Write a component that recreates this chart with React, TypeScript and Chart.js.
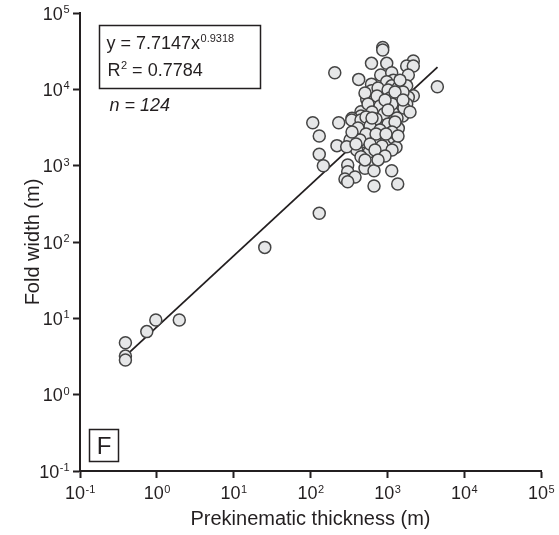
import { useEffect, useRef } from "react";
import { Chart, registerables } from "chart.js";

Chart.register(...registerables);

// Prekinematic thickness (m) of each measured fold
const thickness = [
  0.39, 0.39, 0.39, 0.74, 0.97, 1.96, 25.4, 130,
  871, 871, 622, 982, 2178, 1786, 2178, 207, 424, 820,
  1140, 1875, 1197, 982, 622, 1786, 1140, 4477, 622, 871,
  1297, 2178, 1875, 539, 671, 871, 1786, 1321, 582, 961,
  454, 764, 1197, 1585, 454, 107, 233, 347, 454, 560,
  982, 728, 1084, 1390, 487, 622, 130, 327, 221, 512,
  713, 982, 1220, 399, 1297, 582, 454, 130, 147, 305,
  512, 671, 1140, 305, 281, 380, 305, 671, 1365, 296,
  344, 454,
  757, 1021, 1377, 1600, 512, 734, 1084, 1462, 561, 803,
  1151, 1648, 632, 905, 1337, 528, 713, 1021, 1259, 595,
  803, 1151, 415, 528, 713, 961, 1377, 441, 595, 853,
  1151, 391, 691, 933, 512, 757, 347, 1973, 1462, 1259,
  933, 632, 1021, 1600,
];

// Fold width (m), same order as thickness
const foldWidth = [
  4.8, 3.2, 2.85, 6.7, 9.5, 9.5, 85, 238,
  35300, 32700, 21900, 21900, 23500, 20200, 20200, 16500, 13500, 15400,
  16500, 15400, 13200, 12600, 11700, 11100, 11100, 10800, 9600, 9040,
  8260, 8260, 7870, 7400, 7030, 6890, 6420, 5920, 5640, 5640,
  5090, 4750, 4850, 4470, 4470, 3650, 3650, 4170, 3650, 3650,
  3960, 3410, 3310, 3080, 2790, 2990, 2450, 2170, 1830, 2060,
  2120, 2170, 2280, 1600, 1740, 1520, 1310, 1410, 1000, 1020,
  923, 859, 859, 834, 668, 710, 617, 542, 575, 1770,
  3960, 3960,
  10400, 9800, 10400, 9230, 8950, 8180, 7700, 7030, 6420, 6050,
  6420, 5700, 5050, 4750, 4210, 4340, 4080, 3510, 3730, 3310,
  2930, 2760, 3110, 2600, 2600, 2600, 2450, 2170, 1920, 1810,
  1600, 1920, 1600, 1340, 1190, 1190, 2760, 5050, 13200, 9230,
  7250, 4210, 5360, 7250,
];

// Power-law fit y = a x^b shown on the chart
const fitCoef = 7.7147;
const fitExponent = 0.9318;
const fitXRange = [0.38, 4500];

const tickExponents = [-1, 0, 1, 2, 3, 4, 5];
const xTitle = "Prekinematic thickness (m)";
const yTitle = "Fold width (m)";
const eqBase = "y = 7.7147x";
const eqSup = "0.9318";
const r2Base = "R";
const r2Sup = "2";
const r2Rest = " = 0.7784";
const nLabel = "n = 124";
const panelLabel = "F";

const FONT = '"Liberation Sans", Arial, Helvetica, sans-serif';
const INK = "#231f20";

const labelsPlugin = {
  id: "customLabels",
  afterDraw(chart: any) {
    const { ctx, chartArea, scales } = chart;
    const xs = scales.x;
    const ys = scales.y;
    ctx.save();
    ctx.fillStyle = INK;
    ctx.strokeStyle = INK;
    ctx.textBaseline = "alphabetic";
    ctx.textAlign = "left";

    const drawPow = (exp: number, x: number, y: number, align: string) => {
      ctx.font = `18px ${FONT}`;
      const wb = ctx.measureText("10").width;
      ctx.font = `11px ${FONT}`;
      const es = String(exp);
      const we = ctx.measureText(es).width;
      const start = align === "center" ? x - (wb + we) / 2 : x - (wb + we);
      ctx.font = `18px ${FONT}`;
      ctx.fillText("10", start, y);
      ctx.font = `11px ${FONT}`;
      ctx.fillText(es, start + wb + 0.5, y - 6.5);
    };

    for (const e of tickExponents) {
      drawPow(e, xs.getPixelForValue(10 ** e), chartArea.bottom + 28, "center");
      drawPow(e, chartArea.left - 11, ys.getPixelForValue(10 ** e) + 6.5, "right");
    }

    // equation box
    const bx = chartArea.left + 19.5;
    const by = chartArea.top + 12.5;
    ctx.lineWidth = 1.5;
    ctx.strokeRect(bx, by, 161, 63);
    ctx.font = `18px ${FONT}`;
    const tx = bx + 7;
    ctx.fillText(eqBase, tx, by + 23);
    const w1 = ctx.measureText(eqBase).width;
    ctx.font = `11px ${FONT}`;
    ctx.fillText(eqSup, tx + w1 + 0.5, by + 16);
    ctx.font = `18px ${FONT}`;
    ctx.fillText(r2Base, tx + 1, by + 50);
    const wr = ctx.measureText(r2Base).width;
    ctx.font = `11px ${FONT}`;
    ctx.fillText(r2Sup, tx + 1 + wr + 0.5, by + 43.5);
    const ws = ctx.measureText(r2Sup).width;
    ctx.font = `18px ${FONT}`;
    ctx.fillText(r2Rest, tx + 1 + wr + ws + 0.5, by + 50);
    ctx.font = `italic 18px ${FONT}`;
    ctx.fillText(nLabel, tx + 3, by + 85);

    // panel letter
    const fx = chartArea.left + 9.5;
    const fy = chartArea.bottom - 41.5;
    ctx.lineWidth = 1.5;
    ctx.strokeRect(fx, fy, 29, 32);
    ctx.font = `24px ${FONT}`;
    ctx.textAlign = "center";
    ctx.fillText(panelLabel, fx + 14.5, fy + 24.5);
    ctx.restore();
  },
};

export default function App() {
  const ref = useRef<HTMLCanvasElement | null>(null);

  useEffect(() => {
    if (!ref.current) return;
    const points = thickness.map((x, i) => ({ x, y: foldWidth[i] }));
    const fitLine = fitXRange.map((x) => ({ x, y: fitCoef * Math.pow(x, fitExponent) }));
    const decadeTicks = (scale: any) => {
      scale.ticks = tickExponents.map((e) => ({ value: 10 ** e }));
    };
    const gridOpts = {
      display: true,
      drawOnChartArea: false,
      drawTicks: true,
      tickLength: 7,
      tickWidth: 2,
      tickColor: INK,
    };
    const chart = new Chart(ref.current, {
      type: "scatter",
      data: {
        datasets: [
          {
            type: "scatter",
            data: points,
            pointRadius: 6,
            pointBackgroundColor: "#e6e7e8",
            pointBorderColor: "#444444",
            pointBorderWidth: 1.5,
            order: 1,
          } as any,
          {
            type: "line",
            data: fitLine,
            borderColor: INK,
            borderWidth: 1.8,
            pointRadius: 0,
            fill: false,
            order: 2,
          } as any,
        ],
      },
      options: {
        animation: false,
        responsive: false,
        layout: { padding: { top: 13, right: 18, bottom: 0, left: 0 } },
        plugins: { legend: { display: false }, tooltip: { enabled: false } },
        scales: {
          x: {
            type: "logarithmic",
            min: 0.1,
            max: 100000,
            afterBuildTicks: decadeTicks,
            afterFit: (s: any) => {
              s.height = 64;
            },
            ticks: { display: false },
            grid: gridOpts,
            border: { display: true, color: INK, width: 2 },
            title: {
              display: true,
              text: xTitle,
              color: INK,
              font: { size: 20, family: FONT },
              padding: { top: 0, bottom: 4 },
            },
          },
          y: {
            type: "logarithmic",
            min: 0.1,
            max: 100000,
            afterBuildTicks: decadeTicks,
            afterFit: (s: any) => {
              s.width = 80;
            },
            ticks: { display: false },
            grid: gridOpts,
            border: { display: true, color: INK, width: 2 },
            title: {
              display: true,
              text: yTitle,
              color: INK,
              font: { size: 20, family: FONT },
              padding: { top: 21, bottom: 0 },
            },
          },
        },
      } as any,
      plugins: [labelsPlugin],
    });
    return () => chart.destroy();
  }, []);

  return (
    <div style={{ position: "absolute", left: 0, top: 0, width: 559, height: 535, background: "#fff" }}>
      <canvas ref={ref} width={559} height={535} style={{ display: "block" }} />
    </div>
  );
}
